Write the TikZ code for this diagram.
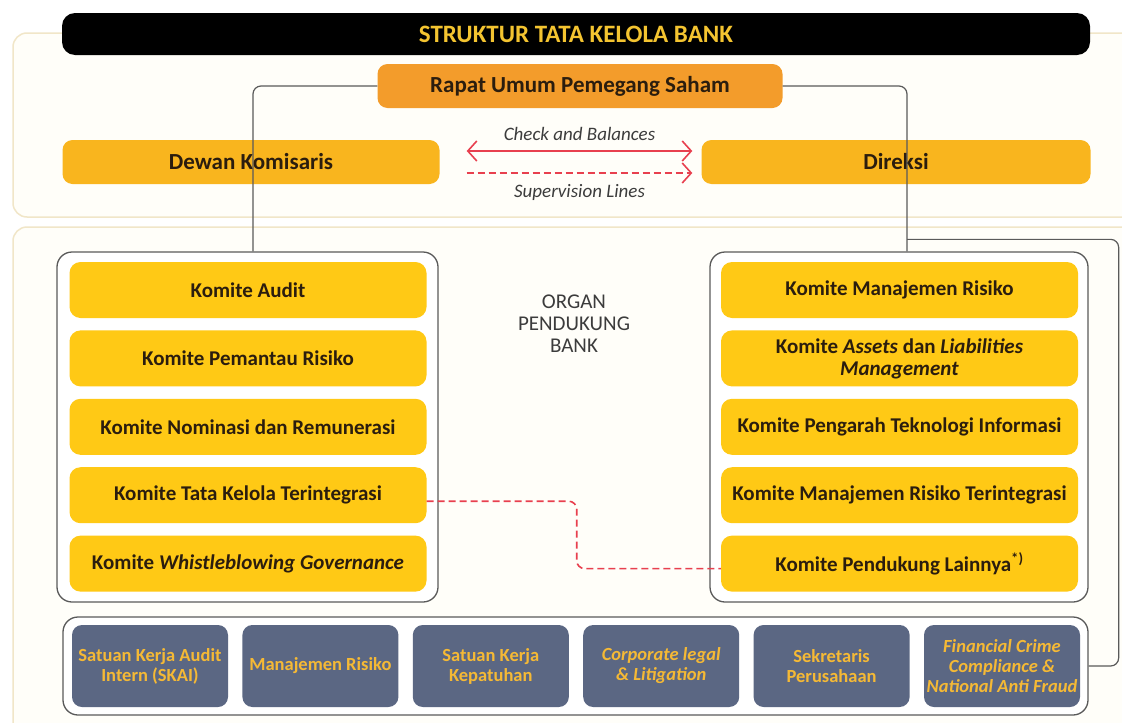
\documentclass[tikz,border=0pt]{standalone}
\usepackage{fontspec}
\setmainfont{Carlito}
\usetikzlibrary{positioning,arrows.meta}
\definecolor{rupsoranye}{HTML}{F39C2B}
\definecolor{dewankuning}{HTML}{F9B51E}
\definecolor{komkuning}{HTML}{FFC915}
\definecolor{emasjudul}{HTML}{F4C430}
\definecolor{slatebiru}{HTML}{5B6783}
\definecolor{emasunit}{HTML}{F5B935}
\definecolor{garisabu}{HTML}{5A5A5A}
\definecolor{merahcek}{HTML}{E8404F}
\definecolor{panelisi}{HTML}{FFFEF9}
\definecolor{panelgaris}{HTML}{F1E6C8}
\definecolor{teksgelap}{HTML}{2B1D0E}
\definecolor{teksabu}{HTML}{3C3C3C}

\begin{document}
\begin{tikzpicture}[x=1pt,y=-1pt,
   panel/.style={draw=panelgaris,fill=panelisi,line width=1.5pt,rounded corners=14pt},
   judul/.style={fill=black,rounded corners=13pt,minimum width=1028pt,minimum height=42pt,
     text=emasjudul,font=\bfseries\fontsize{25}{28}\selectfont},
   pimpinan/.style={rounded corners=10pt,minimum height=44pt,text=teksgelap,
     font=\bfseries\fontsize{23}{26}\selectfont},
   grup/.style={draw=garisabu,fill=white,line width=1.3pt,rounded corners=15pt,minimum height=350pt},
   komite/.style={fill=komkuning,rounded corners=11pt,minimum width=357pt,minimum height=56pt,
     text=teksgelap,align=center,font=\bfseries\fontsize{21}{22}\selectfont},
   unit/.style={fill=slatebiru,rounded corners=10pt,minimum width=156pt,minimum height=82pt,
     inner sep=2pt,text=emasunit,align=center,font=\bfseries\fontsize{18.5}{20}\selectfont},
   garis/.style={draw=garisabu,line width=1.2pt,rounded corners=8pt},
   merah/.style={draw=merahcek,line width=1.6pt},
   ket/.style={text=teksabu,font=\itshape\fontsize{19}{22}\selectfont}]
\clip (0,0) rectangle (1122,723);
\fill[white] (0,0) rectangle (1122,723);
\draw[panel] (13,33) rectangle (1150,217);
\draw[panel] (13,227) rectangle (1150,760);

\node[judul] (judul) at (576,34) {STRUKTUR TATA KELOLA BANK};
\node[pimpinan,fill=rupsoranye,minimum width=405pt] (rups) at (580,86) {Rapat Umum Pemegang Saham};
\node[pimpinan,fill=dewankuning,minimum width=377pt] (dekom) at (251,162) {Dewan Komisaris};
\node[pimpinan,fill=dewankuning,minimum width=389pt] (direksi) at (896,162) {Direksi};

\draw[merah,{Straight Barb[length=9pt,width=20pt]}-{Straight Barb[length=9pt,width=20pt]}]
   ([xshift=27pt,yshift=11pt]dekom.east) -- node[midway,yshift=17pt,ket] {Check and Balances}
   ([xshift=-9pt,yshift=11pt]direksi.west);
\draw[merah,dash pattern=on 7pt off 4pt,-{Straight Barb[length=9pt,width=20pt]}]
   ([xshift=27pt,yshift=-11pt]dekom.east) -- node[midway,yshift=-19pt,ket] {Supervision Lines}
   ([xshift=-9pt,yshift=-11pt]direksi.west);

\node[grup,minimum width=381pt] (grupkiri) at (247.5,427) {};
\node[grup,minimum width=378pt] (grupkanan) at (899,427) {};

\node[komite] (kk1) at (248,290) {Komite Audit};
\node[komite,below=12pt of kk1] (kk2) {Komite Pemantau Risiko};
\node[komite,below=12pt of kk2] (kk3) {Komite Nominasi dan Remunerasi};
\node[komite,below=12pt of kk3] (kk4) {Komite Tata Kelola Terintegrasi};
\node[komite,below=12pt of kk4] (kk5) {Komite \textit{Whistleblowing Governance}};

\node[komite] (kn1) at (899.5,290) {Komite Manajemen Risiko};
\node[komite,below=12pt of kn1] (kn2) {Komite \textit{Assets} dan \textit{Liabilities}\\\textit{Management}};
\node[komite,below=12pt of kn2] (kn3) {Komite Pengarah Teknologi Informasi};
\node[komite,below=12pt of kn3] (kn4) {Komite Manajemen Risiko Terintegrasi};
\node[komite,below=12pt of kn4] (kn5) {Komite Pendukung Lainnya\textsuperscript{*)}};

\node[align=center,text=teksabu,font=\fontsize{21}{22}\selectfont] (organteks) at (574,324)
   {ORGAN\\PENDUKUNG\\BANK};

\node[grup,minimum width=1025pt,minimum height=98pt] (grupbawah) at (575.5,666) {};
\node[unit] (u1) at (150,666) {Satuan Kerja Audit\\Intern (SKAI)};
\node[unit,right=14pt of u1] (u2) {Manajemen Risiko};
\node[unit,right=14pt of u2] (u3) {Satuan Kerja\\Kepatuhan};
\node[unit,right=14pt of u3] (u4) {\itshape Corporate legal\\\itshape \& Litigation};
\node[unit,right=14pt of u4] (u5) {Sekretaris\\Perusahaan};
\node[unit,right=14pt of u5] (u6) {\itshape Financial Crime\\\itshape Compliance \&\\\itshape National Anti Fraud};

\draw[garis] (rups.west) -| ([xshift=5.5pt]grupkiri.north);
\draw[garis] (rups.east) -| ([xshift=8pt]grupkanan.north);
\coordinate (cabang) at ([xshift=8pt,yshift=12pt]grupkanan.north);
\draw[garis] (cabang) -| ([xshift=30pt]grupbawah.east) -- (grupbawah.east);
\draw[merah,dash pattern=on 7pt off 4pt,rounded corners=8pt]
   ([yshift=-6pt]kk4.east) -- ++(150,0) |- ([yshift=-5pt]kn5.west);
\end{tikzpicture}
\end{document}
